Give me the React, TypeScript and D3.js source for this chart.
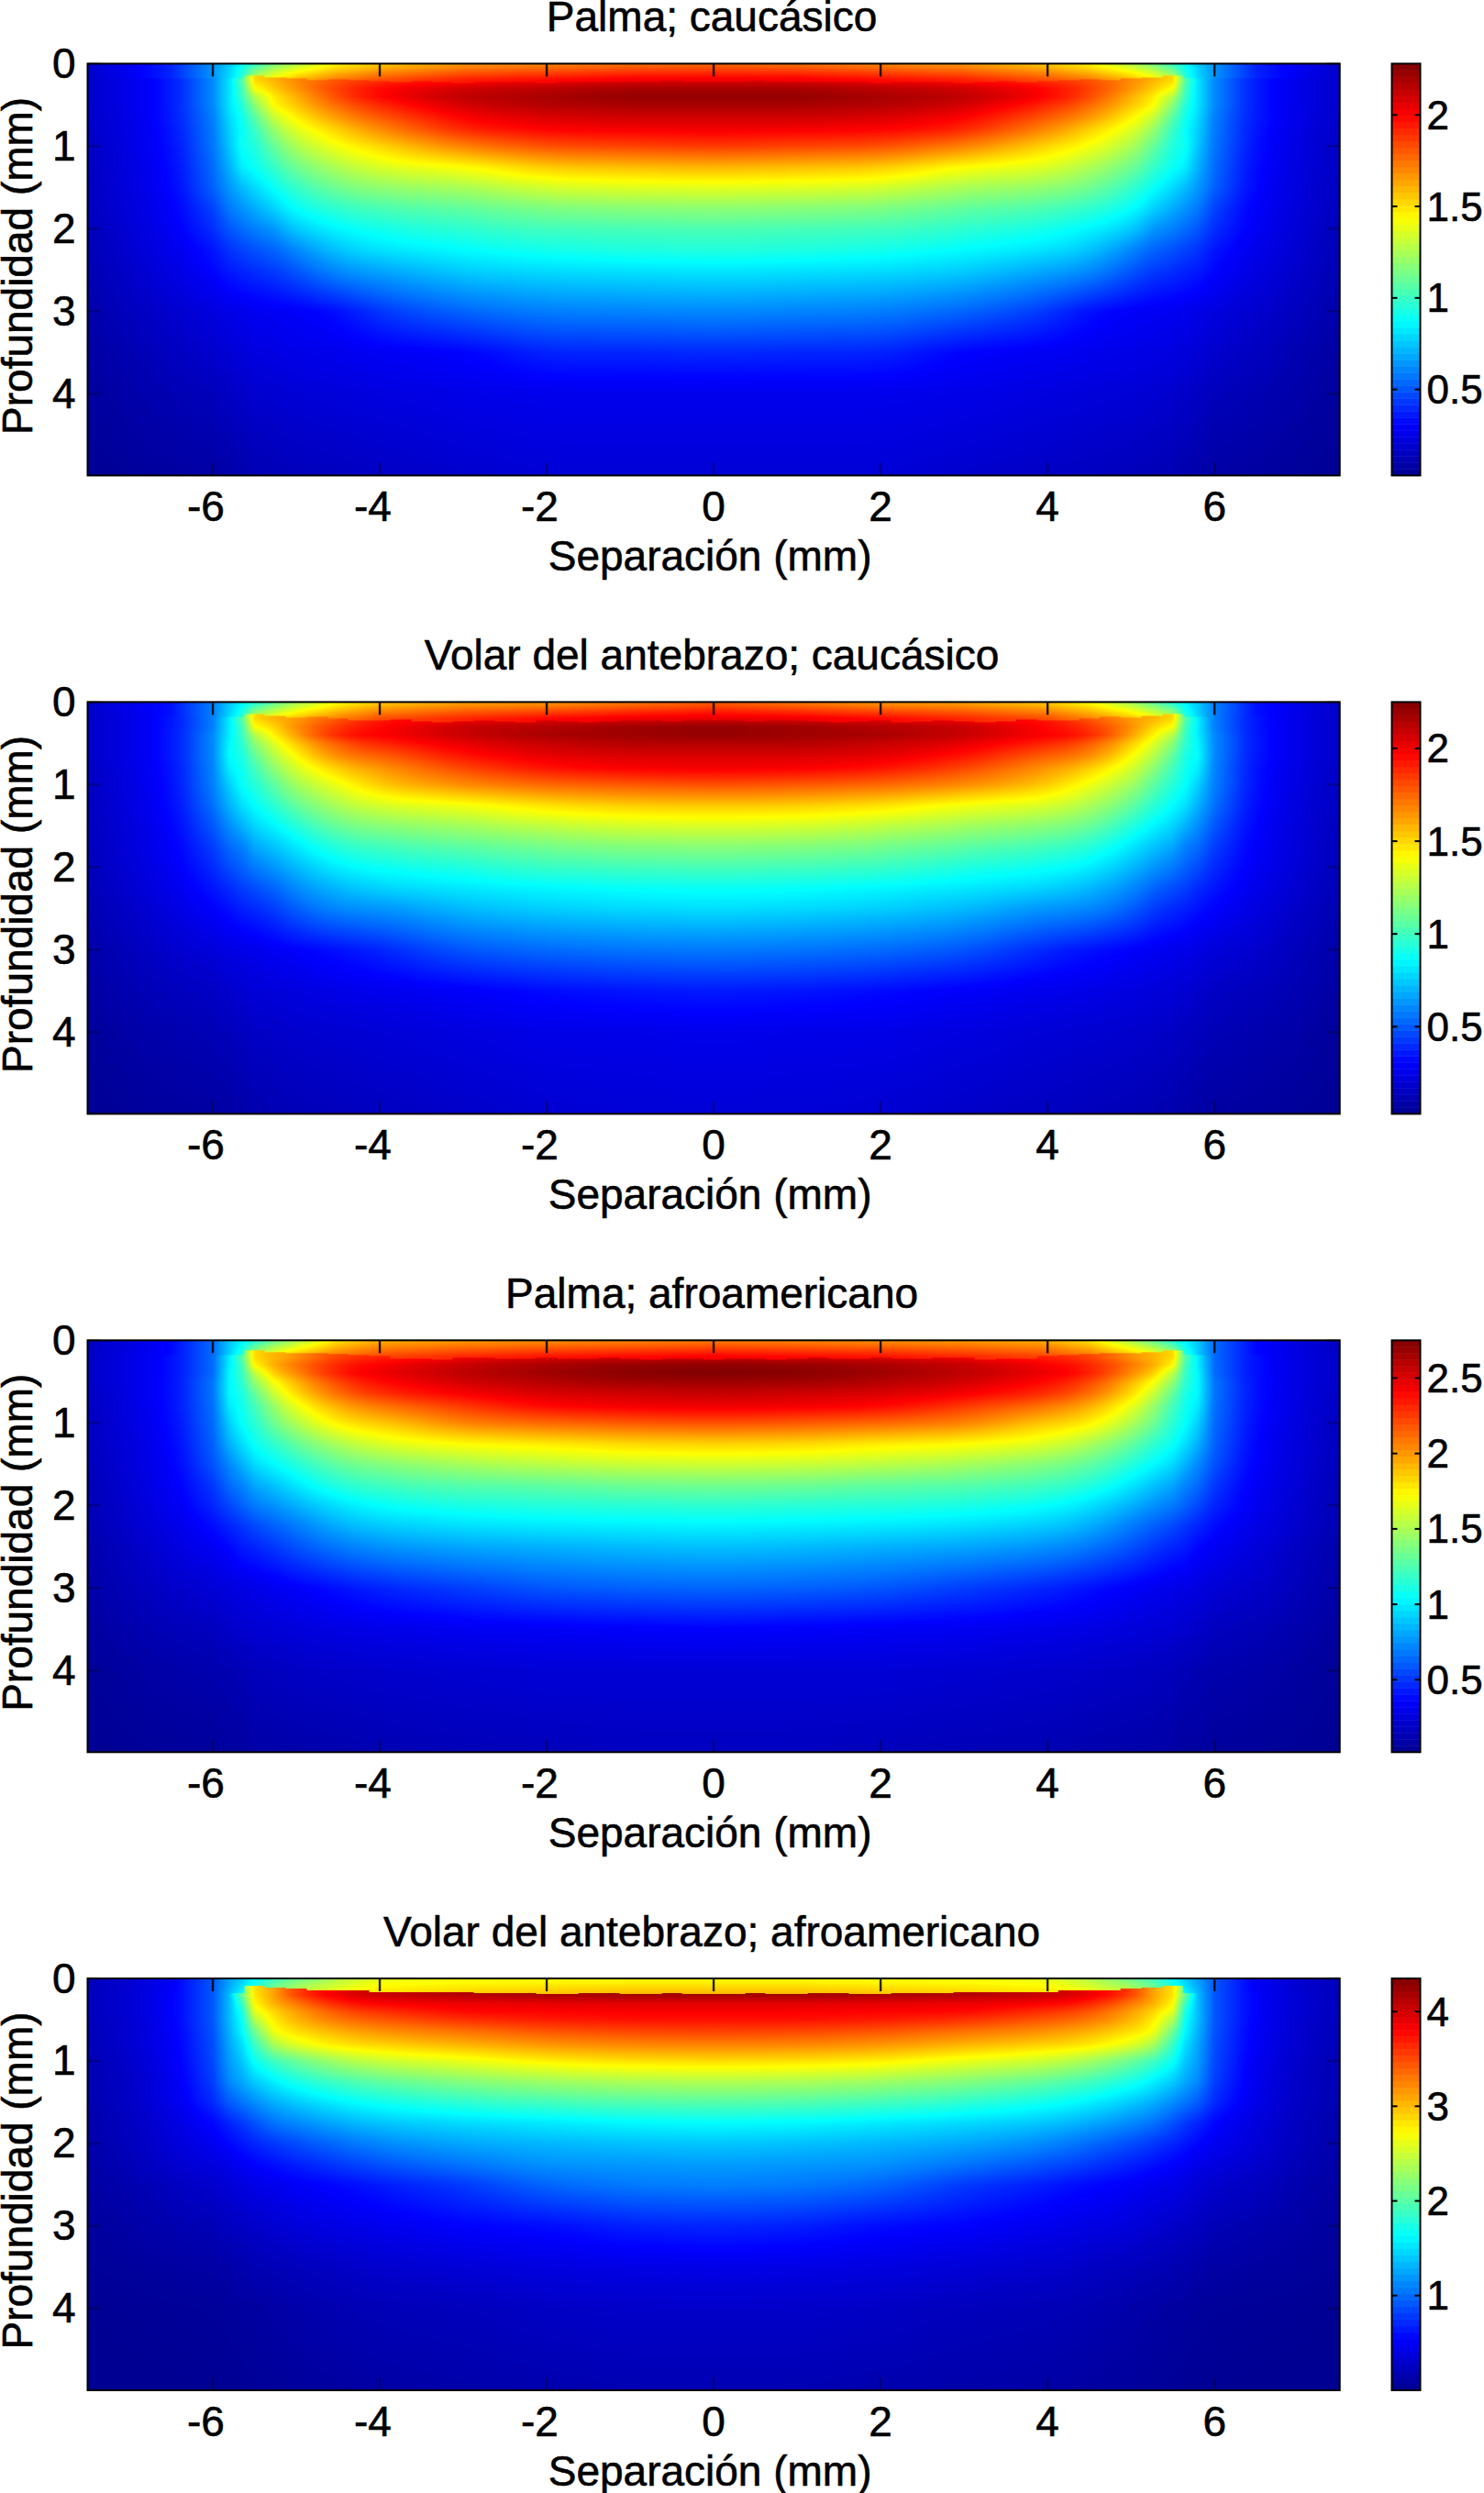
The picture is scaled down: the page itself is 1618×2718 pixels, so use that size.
import React, { useMemo } from "react";
import * as d3 from "d3";

// Depth profiles, one list per |separation| (mm), each value as a
// fraction of that panel's colour-bar span. The maps are mirror-symmetric about 0.
const separationColumns = [0, 1, 2, 3, 4, 4.5, 5, 5.25, 5.5, 5.65, 5.8, 6, 6.5, 7, 7.5];
const depthRows = [0.2, 0.3, 0.4, 0.5, 0.65, 0.8, 1, 1.25, 1.5, 1.75, 2, 2.25, 2.5, 3, 3.5, 4, 4.97];
const interfaceSeparations = [0, 0.25, 0.5, 0.75, 1, 1.25, 1.5, 1.75, 2, 2.25, 2.5, 2.75, 3, 3.25, 3.5, 3.75, 4, 4.25, 4.5, 4.75, 5, 5.25, 5.5];

const palmaCaucasicoProfiles = [
  [0.91, 0.96, 0.98, 0.96, 0.92, 0.885, 0.82, 0.70, 0.60, 0.515, 0.45, 0.41, 0.355, 0.26, 0.165, 0.105, 0.08],
  [0.91, 0.96, 0.98, 0.96, 0.92, 0.88, 0.81, 0.69, 0.595, 0.51, 0.445, 0.405, 0.35, 0.255, 0.16, 0.105, 0.08],
  [0.89, 0.94, 0.96, 0.95, 0.91, 0.875, 0.80, 0.68, 0.585, 0.50, 0.44, 0.395, 0.345, 0.25, 0.16, 0.105, 0.08],
  [0.87, 0.92, 0.94, 0.92, 0.88, 0.84, 0.75, 0.625, 0.54, 0.47, 0.42, 0.375, 0.33, 0.225, 0.125, 0.10, 0.07],
  [0.83, 0.87, 0.875, 0.84, 0.79, 0.74, 0.665, 0.595, 0.52, 0.45, 0.395, 0.35, 0.29, 0.18, 0.115, 0.09, 0.06],
  [0.80, 0.82, 0.81, 0.78, 0.73, 0.67, 0.62, 0.55, 0.49, 0.425, 0.37, 0.325, 0.27, 0.135, 0.105, 0.085, 0.055],
  [0.74, 0.73, 0.70, 0.68, 0.64, 0.60, 0.55, 0.49, 0.43, 0.385, 0.33, 0.26, 0.21, 0.12, 0.10, 0.08, 0.05],
  [0.70, 0.68, 0.65, 0.635, 0.58, 0.53, 0.48, 0.43, 0.385, 0.335, 0.275, 0.225, 0.185, 0.115, 0.095, 0.075, 0.045],
  [0.66, 0.62, 0.55, 0.51, 0.46, 0.43, 0.405, 0.385, 0.34, 0.295, 0.25, 0.205, 0.17, 0.11, 0.09, 0.07, 0.04],
  [0.46, 0.44, 0.43, 0.41, 0.39, 0.38, 0.385, 0.36, 0.31, 0.27, 0.23, 0.19, 0.16, 0.105, 0.085, 0.065, 0.035],
  [0.35, 0.35, 0.35, 0.35, 0.34, 0.33, 0.32, 0.30, 0.275, 0.245, 0.21, 0.175, 0.15, 0.10, 0.08, 0.06, 0.03],
  [0.26, 0.26, 0.26, 0.26, 0.25, 0.245, 0.24, 0.23, 0.22, 0.19, 0.17, 0.145, 0.13, 0.09, 0.07, 0.05, 0.025],
  [0.14, 0.14, 0.14, 0.14, 0.14, 0.135, 0.13, 0.125, 0.12, 0.115, 0.11, 0.10, 0.09, 0.07, 0.055, 0.04, 0.02],
  [0.10, 0.10, 0.10, 0.10, 0.10, 0.095, 0.095, 0.09, 0.09, 0.085, 0.08, 0.075, 0.07, 0.055, 0.04, 0.03, 0.012],
  [0.065, 0.065, 0.065, 0.065, 0.06, 0.06, 0.055, 0.055, 0.05, 0.05, 0.045, 0.04, 0.035, 0.03, 0.02, 0.015, 0.005],
];
const palmaCaucasicoSurface = [0.77, 0.76, 0.74, 0.72, 0.67, 0.63, 0.55, 0.5, 0.42, 0.38, 0.33, 0.27, 0.16, 0.11, 0.07];
const palmaCaucasicoSubsurface = [0.89, 0.89, 0.87, 0.85, 0.80, 0.76, 0.70, 0.65, 0.58, 0.42, 0.34, 0.27, 0.16, 0.11, 0.07];
const palmaCaucasicoInterface = [0.22, 0.22, 0.21, 0.22, 0.22, 0.225, 0.22, 0.22, 0.23, 0.22, 0.225, 0.22, 0.23, 0.22, 0.21, 0.22, 0.21, 0.2, 0.19, 0.2, 0.18, 0.17, 0.15];
const palmaCaucasicoTicks = [0.5, 1, 1.5, 2];
const palmaCaucasicoLimits = [0.03, 2.28];

const volarCaucasicoProfiles = [
  [0.92, 0.98, 0.98, 0.95, 0.91, 0.885, 0.80, 0.68, 0.59, 0.51, 0.445, 0.385, 0.345, 0.245, 0.15, 0.105, 0.08],
  [0.91, 0.97, 0.97, 0.95, 0.91, 0.88, 0.79, 0.675, 0.585, 0.505, 0.44, 0.38, 0.34, 0.24, 0.145, 0.10, 0.08],
  [0.90, 0.95, 0.96, 0.93, 0.90, 0.86, 0.775, 0.655, 0.565, 0.49, 0.43, 0.37, 0.33, 0.23, 0.135, 0.10, 0.075],
  [0.88, 0.93, 0.93, 0.90, 0.86, 0.81, 0.74, 0.615, 0.535, 0.465, 0.405, 0.355, 0.31, 0.21, 0.12, 0.09, 0.065],
  [0.86, 0.87, 0.875, 0.84, 0.78, 0.73, 0.68, 0.59, 0.51, 0.44, 0.385, 0.335, 0.27, 0.16, 0.105, 0.08, 0.055],
  [0.79, 0.83, 0.86, 0.80, 0.755, 0.68, 0.61, 0.55, 0.485, 0.42, 0.365, 0.31, 0.265, 0.14, 0.10, 0.075, 0.05],
  [0.72, 0.74, 0.72, 0.68, 0.63, 0.59, 0.54, 0.475, 0.41, 0.355, 0.31, 0.265, 0.22, 0.125, 0.09, 0.07, 0.045],
  [0.70, 0.67, 0.64, 0.60, 0.56, 0.52, 0.47, 0.42, 0.37, 0.32, 0.275, 0.225, 0.185, 0.115, 0.085, 0.065, 0.04],
  [0.66, 0.62, 0.55, 0.51, 0.47, 0.44, 0.41, 0.375, 0.335, 0.29, 0.245, 0.20, 0.165, 0.105, 0.08, 0.06, 0.035],
  [0.46, 0.44, 0.43, 0.42, 0.40, 0.39, 0.38, 0.345, 0.30, 0.25, 0.22, 0.185, 0.155, 0.10, 0.075, 0.055, 0.03],
  [0.36, 0.36, 0.36, 0.37, 0.375, 0.36, 0.33, 0.30, 0.265, 0.23, 0.20, 0.165, 0.14, 0.095, 0.07, 0.05, 0.025],
  [0.25, 0.25, 0.26, 0.26, 0.26, 0.255, 0.25, 0.235, 0.21, 0.185, 0.165, 0.145, 0.125, 0.085, 0.06, 0.045, 0.02],
  [0.135, 0.135, 0.135, 0.135, 0.135, 0.13, 0.13, 0.125, 0.12, 0.115, 0.11, 0.10, 0.09, 0.07, 0.05, 0.035, 0.018],
  [0.10, 0.10, 0.10, 0.10, 0.10, 0.095, 0.09, 0.09, 0.085, 0.085, 0.08, 0.075, 0.065, 0.05, 0.04, 0.028, 0.012],
  [0.06, 0.06, 0.06, 0.06, 0.06, 0.055, 0.055, 0.05, 0.05, 0.045, 0.045, 0.04, 0.035, 0.028, 0.02, 0.012, 0.005],
];
const volarCaucasicoSurface = [0.78, 0.75, 0.72, 0.71, 0.67, 0.62, 0.53, 0.47, 0.40, 0.36, 0.32, 0.25, 0.14, 0.10, 0.065];
const volarCaucasicoSubsurface = [0.90, 0.89, 0.87, 0.84, 0.80, 0.75, 0.69, 0.64, 0.58, 0.42, 0.34, 0.25, 0.14, 0.10, 0.065];
const volarCaucasicoInterface = [0.22, 0.22, 0.23, 0.22, 0.22, 0.23, 0.24, 0.23, 0.22, 0.24, 0.23, 0.22, 0.23, 0.24, 0.23, 0.21, 0.22, 0.22, 0.2, 0.18, 0.19, 0.17, 0.14];
const volarCaucasicoTicks = [0.5, 1, 1.5, 2];
const volarCaucasicoLimits = [0.03, 2.25];

const palmaAfroProfiles = [
  [0.93, 0.985, 1.0, 0.97, 0.93, 0.89, 0.80, 0.67, 0.58, 0.49, 0.42, 0.365, 0.315, 0.225, 0.125, 0.08, 0.055],
  [0.92, 0.98, 0.99, 0.97, 0.92, 0.885, 0.79, 0.665, 0.575, 0.485, 0.415, 0.36, 0.31, 0.22, 0.12, 0.08, 0.055],
  [0.91, 0.96, 0.97, 0.95, 0.91, 0.87, 0.775, 0.645, 0.56, 0.47, 0.41, 0.355, 0.30, 0.21, 0.115, 0.08, 0.05],
  [0.89, 0.93, 0.94, 0.92, 0.88, 0.82, 0.75, 0.63, 0.54, 0.46, 0.40, 0.345, 0.29, 0.185, 0.11, 0.075, 0.045],
  [0.84, 0.88, 0.89, 0.87, 0.83, 0.76, 0.675, 0.595, 0.505, 0.44, 0.38, 0.325, 0.27, 0.16, 0.10, 0.07, 0.04],
  [0.82, 0.85, 0.86, 0.82, 0.775, 0.71, 0.65, 0.55, 0.475, 0.415, 0.35, 0.30, 0.245, 0.14, 0.095, 0.065, 0.035],
  [0.73, 0.76, 0.74, 0.70, 0.66, 0.61, 0.55, 0.475, 0.41, 0.355, 0.30, 0.245, 0.205, 0.12, 0.085, 0.06, 0.03],
  [0.70, 0.71, 0.68, 0.63, 0.58, 0.53, 0.49, 0.425, 0.375, 0.32, 0.27, 0.22, 0.18, 0.11, 0.08, 0.055, 0.03],
  [0.66, 0.63, 0.56, 0.52, 0.47, 0.44, 0.415, 0.385, 0.34, 0.29, 0.245, 0.195, 0.16, 0.10, 0.075, 0.05, 0.025],
  [0.46, 0.44, 0.43, 0.42, 0.40, 0.39, 0.38, 0.345, 0.30, 0.255, 0.22, 0.175, 0.15, 0.095, 0.07, 0.045, 0.02],
  [0.36, 0.36, 0.37, 0.37, 0.37, 0.355, 0.33, 0.30, 0.26, 0.23, 0.195, 0.16, 0.13, 0.09, 0.065, 0.04, 0.02],
  [0.23, 0.23, 0.23, 0.24, 0.24, 0.235, 0.23, 0.22, 0.205, 0.18, 0.16, 0.135, 0.115, 0.08, 0.055, 0.035, 0.015],
  [0.13, 0.13, 0.13, 0.13, 0.13, 0.13, 0.125, 0.12, 0.115, 0.11, 0.105, 0.095, 0.085, 0.065, 0.045, 0.03, 0.012],
  [0.095, 0.095, 0.095, 0.095, 0.095, 0.09, 0.09, 0.085, 0.085, 0.08, 0.075, 0.07, 0.06, 0.05, 0.035, 0.02, 0.01],
  [0.06, 0.06, 0.06, 0.06, 0.055, 0.055, 0.05, 0.05, 0.045, 0.04, 0.04, 0.035, 0.03, 0.025, 0.015, 0.01, 0.005],
];
const palmaAfroSurface = [0.75, 0.74, 0.73, 0.72, 0.70, 0.65, 0.54, 0.48, 0.40, 0.36, 0.32, 0.23, 0.13, 0.09, 0.06];
const palmaAfroSubsurface = [0.88, 0.87, 0.86, 0.84, 0.81, 0.77, 0.70, 0.65, 0.58, 0.42, 0.33, 0.23, 0.13, 0.095, 0.06];
const palmaAfroInterface = [0.23, 0.22, 0.22, 0.23, 0.22, 0.21, 0.22, 0.22, 0.21, 0.22, 0.22, 0.21, 0.21, 0.23, 0.22, 0.22, 0.19, 0.18, 0.17, 0.16, 0.16, 0.14, 0.12];
const palmaAfroTicks = [0.5, 1, 1.5, 2, 2.5];
const palmaAfroLimits = [0.02, 2.75];

const volarAfroProfiles = [
  [0.965, 0.905, 0.88, 0.86, 0.81, 0.75, 0.66, 0.55, 0.46, 0.375, 0.32, 0.28, 0.25, 0.16, 0.10, 0.065, 0.04],
  [0.965, 0.905, 0.88, 0.86, 0.805, 0.745, 0.655, 0.545, 0.455, 0.37, 0.315, 0.275, 0.245, 0.155, 0.095, 0.065, 0.04],
  [0.96, 0.90, 0.875, 0.85, 0.79, 0.73, 0.64, 0.53, 0.44, 0.355, 0.305, 0.27, 0.225, 0.135, 0.09, 0.06, 0.035],
  [0.95, 0.895, 0.87, 0.83, 0.76, 0.70, 0.605, 0.505, 0.42, 0.34, 0.29, 0.24, 0.18, 0.125, 0.08, 0.05, 0.03],
  [0.93, 0.88, 0.83, 0.79, 0.73, 0.67, 0.575, 0.47, 0.39, 0.32, 0.26, 0.205, 0.15, 0.105, 0.07, 0.045, 0.025],
  [0.90, 0.855, 0.80, 0.765, 0.70, 0.65, 0.54, 0.44, 0.365, 0.295, 0.23, 0.18, 0.13, 0.095, 0.06, 0.04, 0.02],
  [0.82, 0.76, 0.72, 0.70, 0.655, 0.60, 0.48, 0.40, 0.325, 0.26, 0.20, 0.155, 0.12, 0.085, 0.05, 0.03, 0.015],
  [0.72, 0.71, 0.67, 0.65, 0.62, 0.55, 0.44, 0.365, 0.30, 0.24, 0.18, 0.14, 0.105, 0.075, 0.045, 0.025, 0.012],
  [0.65, 0.63, 0.60, 0.55, 0.48, 0.43, 0.385, 0.325, 0.265, 0.205, 0.16, 0.125, 0.10, 0.065, 0.04, 0.02, 0.01],
  [0.48, 0.43, 0.40, 0.385, 0.37, 0.345, 0.32, 0.29, 0.24, 0.18, 0.145, 0.115, 0.09, 0.06, 0.035, 0.018, 0.008],
  [0.31, 0.31, 0.31, 0.31, 0.30, 0.29, 0.28, 0.26, 0.215, 0.16, 0.13, 0.10, 0.08, 0.055, 0.03, 0.015, 0.006],
  [0.21, 0.21, 0.21, 0.21, 0.205, 0.20, 0.195, 0.185, 0.165, 0.13, 0.11, 0.09, 0.07, 0.045, 0.025, 0.012, 0.005],
  [0.115, 0.115, 0.115, 0.115, 0.11, 0.11, 0.105, 0.10, 0.095, 0.085, 0.08, 0.07, 0.055, 0.035, 0.02, 0.01, 0.004],
  [0.075, 0.075, 0.075, 0.07, 0.07, 0.07, 0.065, 0.06, 0.06, 0.055, 0.05, 0.045, 0.035, 0.025, 0.015, 0.008, 0.003],
  [0.05, 0.05, 0.05, 0.05, 0.045, 0.045, 0.04, 0.04, 0.035, 0.03, 0.03, 0.025, 0.02, 0.015, 0.01, 0.005, 0.002],
];
const volarAfroSurface = [0.62, 0.62, 0.615, 0.61, 0.60, 0.55, 0.48, 0.44, 0.37, 0.32, 0.28, 0.21, 0.115, 0.075, 0.05];
const volarAfroSubsurface = [0.70, 0.70, 0.69, 0.68, 0.66, 0.63, 0.59, 0.53, 0.44, 0.38, 0.31, 0.21, 0.115, 0.075, 0.05];
const volarAfroInterface = [0.185, 0.185, 0.175, 0.185, 0.185, 0.175, 0.18, 0.185, 0.185, 0.18, 0.18, 0.175, 0.17, 0.17, 0.17, 0.17, 0.165, 0.14, 0.15, 0.14, 0.12, 0.11, 0.09];
const volarAfroTicks = [1, 2, 3, 4];
const volarAfroLimits = [0, 4.35];

const titles = ["Palma; caucásico", "Volar del antebrazo; caucásico", "Palma; afroamericano", "Volar del antebrazo; afroamericano"];
const xTicks = [-6, -4, -2, 0, 2, 4, 6];
const yTicks = [0, 1, 2, 3, 4];
const xLabel = "Separación (mm)";
const yLabel = "Profundidad (mm)";
const xDomain = [-7.5, 7.5];
const yDomain = [0, 4.99];

const panels = [
  { title: titles[0], profiles: palmaCaucasicoProfiles, surface: palmaCaucasicoSurface, subsurface: palmaCaucasicoSubsurface, iface: palmaCaucasicoInterface, ticks: palmaCaucasicoTicks, limits: palmaCaucasicoLimits },
  { title: titles[1], profiles: volarCaucasicoProfiles, surface: volarCaucasicoSurface, subsurface: volarCaucasicoSubsurface, iface: volarCaucasicoInterface, ticks: volarCaucasicoTicks, limits: volarCaucasicoLimits },
  { title: titles[2], profiles: palmaAfroProfiles, surface: palmaAfroSurface, subsurface: palmaAfroSubsurface, iface: palmaAfroInterface, ticks: palmaAfroTicks, limits: palmaAfroLimits },
  { title: titles[3], profiles: volarAfroProfiles, surface: volarAfroSurface, subsurface: volarAfroSubsurface, iface: volarAfroInterface, ticks: volarAfroTicks, limits: volarAfroLimits },
];

// Layout
const W = 1618, H = 2718;
const plotL = 95.5, plotR = 1460.7, plotH = 449;
const panelTops = [69.4, 765.4, 1461.3, 2157];
const cbL = 1517.5, cbR = 1548.5;
const FONT = "'Liberation Sans', Arial, sans-serif";
const FS = 46;
const CB_FS = 44;

const jet = d3
  .scaleLinear<string>()
  .domain([0, 0.125, 0.375, 0.625, 0.875, 1])
  .range(["#00008f", "#0000ff", "#00ffff", "#ffff00", "#ff0000", "#800000"])
  .interpolate(d3.interpolateRgb)
  .clamp(true);

const colSeg = (a: number[], v: number) => {
  const i = Math.max(1, Math.min(a.length - 1, d3.bisectLeft(a, v)));
  const f = Math.max(0, Math.min(1, (v - a[i - 1]) / (a[i] - a[i - 1])));
  return [i - 1, i, f] as const;
};

function heatmapUrl(p: (typeof panels)[number]) {
  const w = Math.round(plotR - plotL), h = plotH;
  const x = d3.scaleLinear().domain(xDomain).range([0, w]);
  const y = d3.scaleLinear().domain(yDomain).range([0, h]);
  const value = d3.scaleLinear().domain([0, 1]).range(p.limits);
  const canvas = document.createElement("canvas");
  canvas.width = w;
  canvas.height = h;
  const ctx = canvas.getContext("2d")!;
  const img = ctx.createImageData(w, h);
  const lut = d3.range(1025).map((i) => d3.rgb(jet(i / 1024)));
  const toIndex = d3.scaleLinear().domain(p.limits).range([0, 1024]).clamp(true);
  const grid = (ax: number, r0: number, r1: number, rf: number) => {
    const [c0, c1, cf] = colSeg(separationColumns, Math.abs(ax));
    const a = p.profiles[c0][r0] * (1 - rf) + p.profiles[c0][r1] * rf;
    const b = p.profiles[c1][r0] * (1 - rf) + p.profiles[c1][r1] * rf;
    return a * (1 - cf) + b * cf;
  };
  const offsets = [-1, -0.5, 0, 0.5, 1];
  for (let py = 0; py < h; py++) {
    const d = y.invert(py + 0.5);
    const [r0, r1, rf] = colSeg(depthRows, d);
    for (let px = 0; px < w; px++) {
      const ax = Math.abs(x.invert(px + 0.5));
      const k = Math.min(p.iface.length - 1, Math.round(ax / 0.25));
      const iface = ax > 5.62 ? 0.18 : p.iface[d3.bisectLeft(interfaceSeparations, interfaceSeparations[k])];
      let t: number;
      if (d < iface) {
        const [c0, c1, cf] = colSeg(separationColumns, ax);
        const s = Math.min(1, d / 0.2);
        const top = p.surface[c0] * (1 - cf) + p.surface[c1] * cf;
        const bot = p.subsurface[c0] * (1 - cf) + p.subsurface[c1] * cf;
        t = top * (1 - s) + bot * s;
      } else {
        // display smoothing only, so that the coarse grid does not show as kinks
        const spread = ax < 5.4 ? Math.min(0.3, (5.4 - ax) * 0.45) : ax > 6 ? Math.min(0.3, (ax - 6) * 0.5) : 0;
        if (spread === 0) t = grid(ax, r0, r1, rf);
        else t = d3.mean(offsets, (o) => grid(ax + o * spread, r0, r1, rf))!;
      }
      const c = lut[Math.round(toIndex(value(t)))];
      const o = (py * w + px) * 4;
      img.data[o] = c.r;
      img.data[o + 1] = c.g;
      img.data[o + 2] = c.b;
      img.data[o + 3] = 255;
    }
  }
  ctx.putImageData(img, 0, 0);
  return canvas.toDataURL("image/png");
}

function Panel({ p, top }: { p: (typeof panels)[number]; top: number }) {
  const url = useMemo(() => heatmapUrl(p), [p]);
  const x = d3.scaleLinear().domain(xDomain).range([plotL, plotR]);
  const y = d3.scaleLinear().domain(yDomain).range([top, top + plotH]);
  const cb = d3.scaleLinear().domain(p.limits).range([top + plotH, top]);
  const steps = d3.range(64);
  const cbStep = plotH / 64;
  const text = { fontFamily: FONT, fontSize: FS, fill: "#000", stroke: "#000", strokeWidth: 0.6 };
  const cx = x(0);
  return (
    <g>
      <text x={cx - 2} y={top - 35.5} textAnchor="middle" {...text}>{p.title}</text>
      <image href={url} x={plotL} y={top} width={plotR - plotL} height={plotH} preserveAspectRatio="none" />
      {xTicks.map((t) => (
        <g key={t}>
          <line x1={x(t)} x2={x(t)} y1={top} y2={top + 14} stroke="#000" strokeWidth={2.4} opacity={0.85} />
          <line x1={x(t)} x2={x(t)} y1={top + plotH} y2={top + plotH - 14} stroke="#000" strokeWidth={2.4} opacity={0.3} />
          <text x={x(t) + 12.8} y={top + plotH + 49.5} textAnchor="end" {...text}>{t}</text>
        </g>
      ))}
      {yTicks.map((t) => (
        <g key={t}>
          <line x1={plotL} x2={plotL + 14} y1={y(t)} y2={y(t)} stroke="#000" strokeWidth={2.4} opacity={0.25} />
          <line x1={plotR} x2={plotR - 14} y1={y(t)} y2={y(t)} stroke="#000" strokeWidth={2.4} opacity={0.25} />
          <text x={82.5} y={y(t) + 15.5} textAnchor="end" {...text}>{t}</text>
        </g>
      ))}
      <rect x={plotL} y={top} width={plotR - plotL} height={plotH} fill="none" stroke="#000" strokeWidth={2} />
      <text x={cx - 4} y={top + plotH + 103.5} textAnchor="middle" {...text}>{xLabel}</text>
      <text transform={`translate(35,${top + plotH / 2 - 4}) rotate(-90)`} textAnchor="middle" {...text}>{yLabel}</text>
      {steps.map((i) => (
        <rect key={i} x={cbL} y={top + plotH - (i + 1) * cbStep} width={cbR - cbL} height={cbStep + 0.5} fill={jet((i + 0.5) / 64)} />
      ))}
      {p.ticks.map((t) => (
        <g key={t}>
          <line x1={cbL} x2={cbL + 6} y1={cb(t)} y2={cb(t)} stroke="#000" strokeWidth={2} />
          <line x1={cbR} x2={cbR - 6} y1={cb(t)} y2={cb(t)} stroke="#000" strokeWidth={2} />
          <text x={1555.5} y={cb(t) + 15.5} {...text} fontSize={CB_FS}>{t}</text>
        </g>
      ))}
      <rect x={cbL} y={top} width={cbR - cbL} height={plotH} fill="none" stroke="#000" strokeWidth={2} />
    </g>
  );
}

export default function App() {
  return (
    <svg
      width={W}
      height={H}
      viewBox={`0 0 ${W} ${H}`}
      style={{ position: "absolute", left: 0, top: 0, display: "block", background: "#fff" }}
    >
      {panels.map((p, i) => (
        <Panel key={p.title} p={p} top={panelTops[i]} />
      ))}
    </svg>
  );
}
